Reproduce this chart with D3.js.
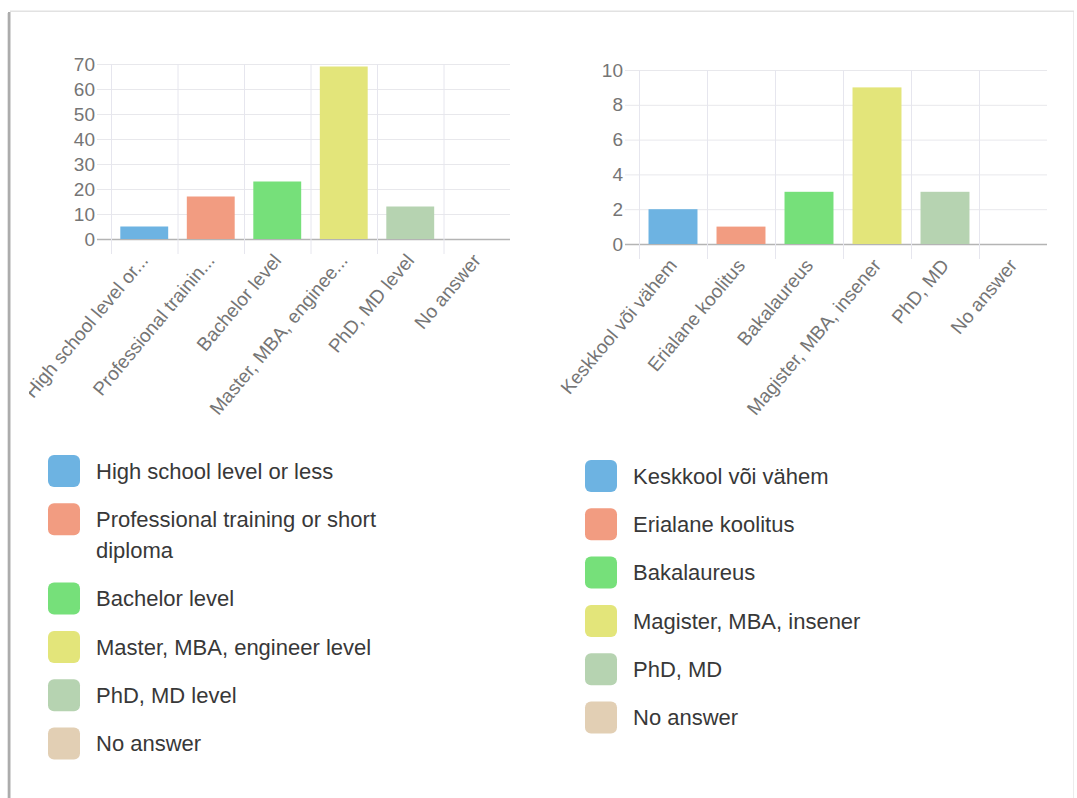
<!DOCTYPE html>
<html>
<head>
<meta charset="utf-8">
<script src="https://cdn.jsdelivr.net/npm/d3@7"></script>
<style>
  body { margin: 0; background: #fff; }
  svg { display: block; font-family: "Liberation Sans", Arial, sans-serif; }
</style>
</head>
<body>
<div id="chart"></div>
<script>
// data
const leftCategories = ["High school level or...", "Professional trainin...", "Bachelor level", "Master, MBA, enginee...", "PhD, MD level", "No answer"]
const leftValues = [5, 17, 23, 69, 13, 0]
const leftTicks = [0, 10, 20, 30, 40, 50, 60, 70]
const leftLegend = ["High school level or less", "Professional training or short diploma", "Bachelor level", "Master, MBA, engineer level", "PhD, MD level", "No answer"]

const rightCategories = ["Keskkool või vähem", "Erialane koolitus", "Bakalaureus", "Magister, MBA, insener", "PhD, MD", "No answer"]
const rightValues = [2, 1, 3, 9, 3, 0]
const rightTicks = [0, 2, 4, 6, 8, 10]
const rightLegend = ["Keskkool või vähem", "Erialane koolitus", "Bakalaureus", "Magister, MBA, insener", "PhD, MD", "No answer"]

const colors = ["#6db3e2", "#f29c81", "#76e07a", "#e3e57a", "#b6d3b1", "#e2cfb4"]

const W = 1077, H = 798

const svg = d3.select("#chart").append("svg")
    .attr("width", W)
    .attr("height", H)

const defs = svg.append("defs")

// card border / shadow
svg.append("rect").attr("x", 0).attr("y", 0).attr("width", W).attr("height", H).attr("fill", "#fff")
svg.append("rect").attr("x", 7).attr("y", 13).attr("width", 1).attr("height", H).attr("fill", "#e4e4e4")
svg.append("rect").attr("x", 8).attr("y", 12).attr("width", 2).attr("height", H).attr("fill", "#acacac")
svg.append("rect").attr("x", 10).attr("y", 12).attr("width", 1).attr("height", H).attr("fill", "#d6d6d6")
svg.append("rect").attr("x", 10).attr("y", 10).attr("width", 1064).attr("height", 1).attr("fill", "#f0f0f0")
svg.append("rect").attr("x", 10).attr("y", 11).attr("width", 1064).attr("height", 1).attr("fill", "#e2e2e2")
svg.append("rect").attr("x", 1073).attr("y", 12).attr("width", 1).attr("height", H).attr("fill", "#ececec")

function drawChart(opt) {
    const x = d3.scaleBand()
        .domain(opt.categories)
        .range([opt.left, opt.right])
    const y = d3.scaleLinear()
        .domain([0, d3.max(opt.ticks)])
        .range([opt.bottom, opt.top])

    const g = svg.append("g")
    if (opt.clip) {
        defs.append("clipPath").attr("id", opt.clip)
            .append("rect").attr("x", opt.clipX).attr("y", 0).attr("width", W).attr("height", H)
        g.attr("clip-path", "url(#" + opt.clip + ")")
    }

    // horizontal grid
    g.selectAll(".hgrid").data(opt.ticks).join("line")
        .attr("x1", opt.left - 14).attr("x2", opt.right)
        .attr("y1", d => y(d) + 0.5).attr("y2", d => y(d) + 0.5)
        .attr("stroke", d => d === 0 ? "#b4b4b4" : "#e8e8ec")
        .attr("stroke-width", d => d === 0 ? 1.6 : 1)

    // vertical grid (offset, at band edges)
    g.selectAll(".vgrid").data(opt.categories).join("line")
        .attr("x1", d => x(d) + 0.5).attr("x2", d => x(d) + 0.5)
        .attr("y1", y(d3.max(opt.ticks))).attr("y2", opt.bottom + 15)
        .attr("stroke", "#e6e6ee").attr("stroke-width", 1)

    // y labels via axis
    const yAxis = g.append("g")
        .attr("transform", "translate(" + (opt.left - 16) + ",0)")
        .call(d3.axisLeft(y).tickValues(opt.ticks).tickSize(0).tickPadding(0))
    yAxis.select(".domain").remove()
    yAxis.attr("font-family", "Liberation Sans, Arial, sans-serif")
    yAxis.selectAll("text")
        .attr("font-size", 19)
        .attr("fill", "#757575")

    // bars
    const bw = x.bandwidth() * 0.72
    g.selectAll(".bar").data(opt.values).join("rect")
        .attr("x", (d, i) => x(opt.categories[i]) + (x.bandwidth() - bw) / 2)
        .attr("y", d => y(d))
        .attr("width", bw)
        .attr("height", d => y(0) - y(d))
        .attr("fill", (d, i) => colors[i])

    // x labels, rotated
    g.selectAll(".xlab").data(opt.categories).join("text")
        .attr("transform", d => "translate(" + (x(d) + x.bandwidth() / 2 + 5) + "," + (opt.bottom + 22) + ") rotate(-50)")
        .attr("text-anchor", "end")
        .attr("font-size", 19)
        .attr("fill", "#757575")
        .text(d => d)
}

drawChart({categories: leftCategories, values: leftValues, ticks: leftTicks,
    left: 111, right: 510, top: 64, bottom: 239, clip: "clipLeft", clipX: 29})
drawChart({categories: rightCategories, values: rightValues, ticks: rightTicks,
    left: 639, right: 1047, top: 70, bottom: 244})

function drawLegend(labels, x0, y0, maxWidth) {
    let cy = y0
    labels.forEach((label, i) => {
        svg.append("rect")
            .attr("x", x0).attr("y", cy - 16)
            .attr("width", 32).attr("height", 32)
            .attr("rx", 6)
            .attr("fill", colors[i])
        const t = svg.append("text")
            .attr("font-size", 22)
            .attr("fill", "#383838")
        // simple word wrap
        const words = label.split(" ")
        let line = []
        let lineNo = 0
        let tspan = t.append("tspan").attr("x", x0 + 48).attr("y", cy).attr("dy", "0.35em")
        words.forEach(w => {
            line.push(w)
            tspan.text(line.join(" "))
            if (tspan.node().getComputedTextLength() > maxWidth && line.length > 1) {
                line.pop()
                tspan.text(line.join(" "))
                line = [w]
                lineNo++
                tspan = t.append("tspan").attr("x", x0 + 48).attr("y", cy + lineNo * 31).attr("dy", "0.35em").text(w)
            }
        })
        cy += 48.3 + lineNo * 31
    })
}

drawLegend(leftLegend, 48, 471, 300)
drawLegend(rightLegend, 585, 476, 420)
</script>
</body>
</html>
